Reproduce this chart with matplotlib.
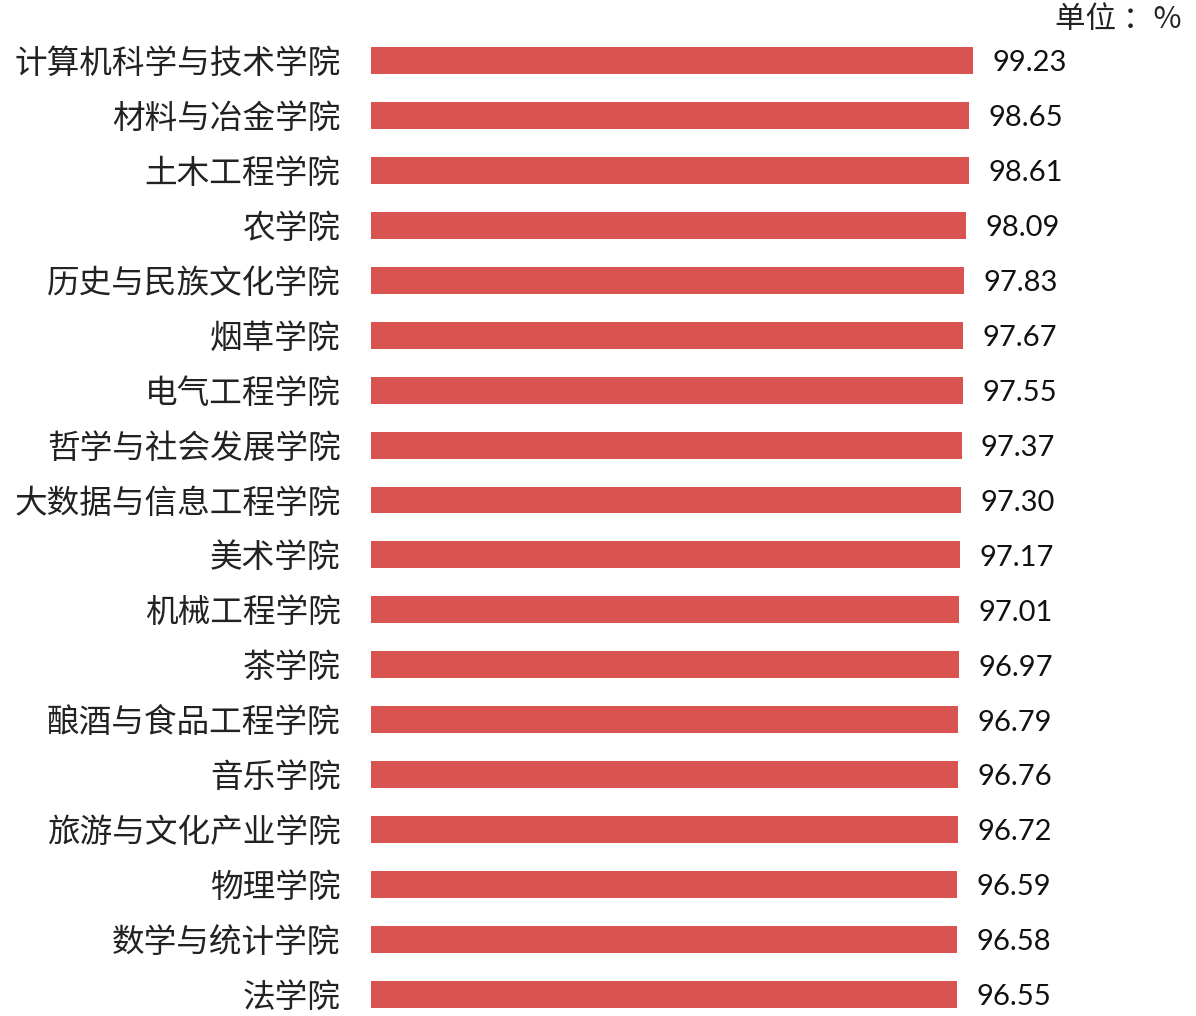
import matplotlib
matplotlib.use("Agg")
import matplotlib.pyplot as plt

plt.rcParams['font.family'] = ['Noto Sans CJK SC', 'DejaVu Sans']

colleges = ['计算机科学与技术学院', '材料与冶金学院', '土木工程学院', '农学院',
            '历史与民族文化学院', '烟草学院', '电气工程学院', '哲学与社会发展学院',
            '大数据与信息工程学院', '美术学院', '机械工程学院', '茶学院',
            '酿酒与食品工程学院', '音乐学院', '旅游与文化产业学院', '物理学院',
            '数学与统计学院', '法学院']
rates = [99.23, 98.65, 98.61, 98.09, 97.83, 97.67, 97.55, 97.37, 97.30,
         97.17, 97.01, 96.97, 96.79, 96.76, 96.72, 96.59, 96.58, 96.55]

W, H = 1196, 1016
fig = plt.figure(figsize=(W / 100, H / 100), dpi=100)
ax = fig.add_axes([371 / W, 0, (W - 371) / W, 1])

pos = list(range(len(colleges)))
ax.barh(pos, rates, height=0.49, color='#D95350')

# pixel scale: ~6.065 px per unit, bars start at 0
ax.set_xlim(0, (W - 371) / 6.065)
ax.set_ylim(17.392, -1.101)

ax.set_yticks(pos)
ax.set_yticklabels(colleges, fontsize=23.5, color='#222222')
ax.tick_params(axis='y', length=0, pad=22)
ax.set_xticks([])
for s in ax.spines.values():
    s.set_visible(False)

for p, v in zip(pos, rates):
    ax.annotate(f'{v:.2f}', (v, p), xytext=(14, -2), textcoords='offset points',
                ha='left', va='center', fontsize=21, family='Lato', color='#111111')

fig.text(1182 / W, 1 - 20 / H, '单位 ：%', ha='right', va='center', fontsize=22,
         color='#222222')

fig.savefig('out.png', dpi=100)
